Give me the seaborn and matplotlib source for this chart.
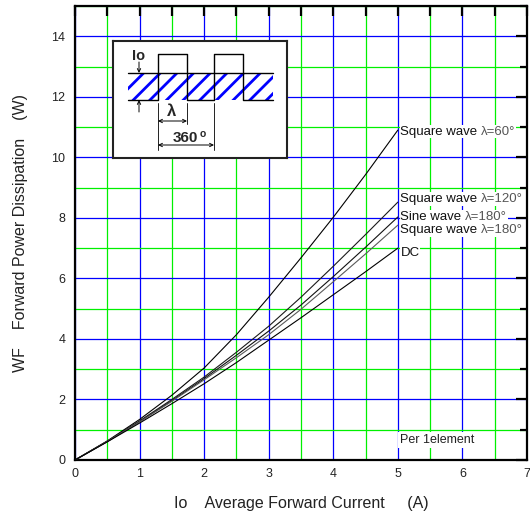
import matplotlib
matplotlib.use("Agg")
import matplotlib.pyplot as plt
import matplotlib.patches as mpatches
import seaborn as sns
import pandas as pd

# average forward current (A)
current = [0.0, 0.5, 1.0, 1.5, 2.0, 2.5, 3.0, 3.5, 4.0, 4.5, 5.0]

# forward power dissipation (W)
sq60 = [0, 0.63, 1.34, 2.14, 3.04, 4.14, 5.38, 6.68, 8.02, 9.43, 10.9]
sq120 = [0, 0.62, 1.29, 2.0, 2.74, 3.56, 4.42, 5.38, 6.4, 7.45, 8.52]
sine180 = [0, 0.61, 1.27, 1.96, 2.69, 3.46, 4.26, 5.12, 6.06, 7.03, 8.03]
sq180 = [0, 0.61, 1.26, 1.94, 2.65, 3.38, 4.14, 4.98, 5.89, 6.81, 7.76]
dc = [0, 0.6, 1.22, 1.86, 2.52, 3.22, 3.96, 4.7, 5.46, 6.22, 7.0]

curve_names = ["sq60", "sq120", "sine180", "sq180", "dc"]
label_main = ["Square wave ", "Square wave ", "Sine wave ", "Square wave ", "DC"]
label_lam = ["\u03bb=60\u00b0", "\u03bb=120\u00b0", "\u03bb=180\u00b0", "\u03bb=180\u00b0", ""]
label_y = [10.85, 8.62, 8.03, 7.6, 6.85]
line_colors = ["#000000", "#1a1a1a", "#111111", "#5a5a5a", "#000000"]

x_ticks = [0, 1, 2, 3, 4, 5, 6, 7]
y_ticks = [0, 2, 4, 6, 8, 10, 12, 14]

rows = []
for name, vals in zip(curve_names, [sq60, sq120, sine180, sq180, dc]):
    for c, p in zip(current, vals):
        rows.append({"curve": name, "Io": c, "P": p})
df = pd.DataFrame(rows)

sns.set_style("white")
plt.rcParams['font.family'] = ['Liberation Sans', 'DejaVu Sans']
plt.rcParams['hatch.linewidth'] = 2.0

W, H = 530, 515
fig = plt.figure(figsize=(W / 100, H / 100), dpi=100)
ax = fig.add_axes([75 / W, 1 - 460 / H, 452 / W, 454 / H])

sns.lineplot(data=df, x="Io", y="P", hue="curve", hue_order=curve_names,
             palette=dict(zip(curve_names, line_colors)), linewidth=0.8,
             legend=False, ax=ax, zorder=3)

ax.set_xlim(0, 7)
ax.set_ylim(0, 15)
ax.set_xticks(x_ticks)
ax.set_yticks(y_ticks)
ax.set_xticks([v + 0.5 for v in x_ticks[:-1]], minor=True)
ax.set_yticks([v + 1 for v in y_ticks], minor=True)

ax.grid(which="major", color="#0000ff", linewidth=0.9)
ax.grid(which="minor", color="#00f000", linewidth=0.9)
ax.set_axisbelow(True)

ax.tick_params(which="both", direction="in", top=True, right=True,
               width=1.6, color="black", labelsize=9, colors="#222222")
ax.tick_params(axis="x", which="both", length=7, pad=6)
ax.tick_params(axis="y", which="major", length=8, pad=7)
ax.tick_params(axis="y", which="minor", length=5)
for s in ax.spines.values():
    s.set_linewidth(1.6)
    s.set_color("black")

ax.set_xlabel("Io    Average Forward Current     (A)", fontsize=11.5,
              color="#222222", labelpad=11)
ax.set_ylabel("WF    Forward Power Dissipation    (W)", fontsize=11.5,
              color="#222222", labelpad=17)

# curve labels at the end of each line
for main, lam, ly in zip(label_main, label_lam, label_y):
    t = ax.text(5.04, ly, main, fontsize=9.5, color="#111111", va="center",
                ha="left", zorder=4,
                bbox=dict(facecolor="white", edgecolor="none", pad=0.5))
    if lam:
        ax.annotate(lam, xy=(1, 0), xycoords=t, va="bottom", ha="left",
                    fontsize=9.5, color="#555555", zorder=4,
                    bbox=dict(facecolor="white", edgecolor="none", pad=0.5))

ax.text(5.04, 0.66, "Per 1element", fontsize=9, color="#222222", va="center",
        ha="left", zorder=4,
        bbox=dict(facecolor="white", edgecolor="none", pad=1.5))

# waveform inset (drawn in pixel units of the figure)
ins = fig.add_axes([113 / W, 1 - 158 / H, 174 / W, 117 / H])
ins.set_xlim(113, 287)
ins.set_ylim(158, 41)
ins.set_xticks([])
ins.set_yticks([])
ins.set_facecolor("white")
for s in ins.spines.values():
    s.set_linewidth(1.5)
    s.set_color("#222222")

ins.add_patch(mpatches.Rectangle((128, 73), 145, 27, facecolor="white",
                                 edgecolor="#0000ff", hatch="//", linewidth=0))
ins.plot([128, 273], [73, 73], color="black", lw=1.0)
ins.plot([128, 158, 158, 187, 187, 214, 214, 243, 243, 273],
         [100, 100, 54, 54, 100, 100, 54, 54, 100, 100], color="black", lw=1.0)

arrow = dict(arrowstyle="->", lw=0.7, color="black", shrinkA=0, shrinkB=0,
             mutation_scale=6)
ins.annotate("", xy=(139, 73), xytext=(139, 62), arrowprops=arrow)
ins.annotate("", xy=(139, 100), xytext=(139, 112), arrowprops=arrow)
for xe, y1 in [(158, 150), (187, 124), (214, 150)]:
    ins.plot([xe, xe], [103, y1], color="#222222", lw=0.7)
both = dict(arrowstyle="<->", lw=0.7, color="black", shrinkA=0, shrinkB=0,
            mutation_scale=6)
ins.annotate("", xy=(158, 121), xytext=(187, 121), arrowprops=both)
ins.annotate("", xy=(158, 145), xytext=(214, 145), arrowprops=both)

ins.text(138.5, 56, "Io", fontsize=10.5, fontweight="bold", ha="center", va="center")
ins.text(172, 112, "\u03bb", fontsize=12, fontweight="bold", ha="center", va="center")
ins.text(198, 138.5, "360", fontsize=11, fontweight="bold", ha="right", va="center")
ins.text(199.5, 134, "o", fontsize=7.5, fontweight="bold", ha="left", va="center")

fig.savefig("out.png", dpi=100)
